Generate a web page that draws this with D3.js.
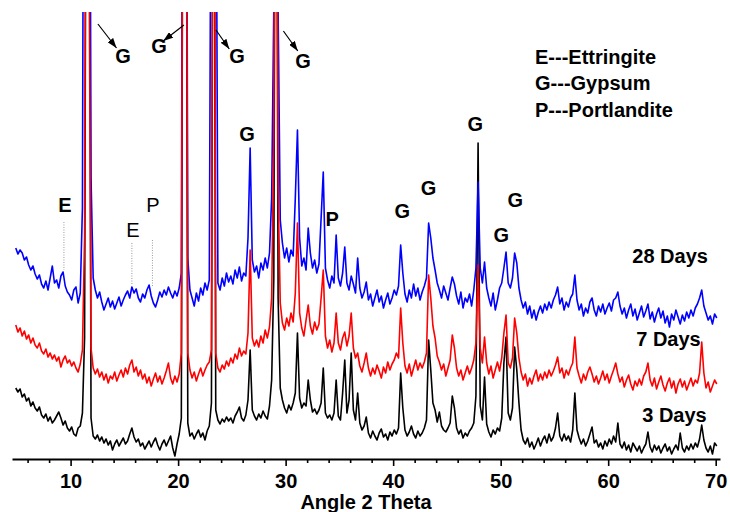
<!DOCTYPE html>
<html>
<head>
<meta charset="utf-8">
<script src="https://cdn.jsdelivr.net/npm/d3@7"></script>
<style>
body{margin:0;background:#fff;}
.chart_container svg{display:block;font-family:"Liberation Sans",Arial,sans-serif;}
</style>
</head>
<body>
<div class="chart_container"></div>
<script>
// scan: 2 theta from 4.9 deg, 0.2 deg per step, intensity in a.u.
var start = 4.9, step = 0.2;
var days3 = [
    70,66,69,61,64,57,60,52,56,50, 47,51,43,40,44,37,41,35,38,42,
    46,40,33,37,30,27,31,24,22,30, 32,45,120,900,900,40,22,19,23,17,
    21,15,19,13,17,8,14,18,12,16, 20,14,17,24,30,21,16,19,12,15,
    9,13,17,11,16,20,13,8,14,18, 12,17,22,10,2,14,24,40,900,900,
    35,22,25,19,24,28,21,25,18,27, 32,55,900,48,38,34,39,36,41,37,
    40,35,42,46,51,40,37,43,58,108, 48,42,38,44,40,47,42,39,52,78,
    180,900,160,70,58,50,45,53,48,55, 65,125,60,50,55,52,78,58,46,49,
    44,48,55,90,45,40,43,38,45,78, 42,38,65,98,45,58,105,48,38,65,
    35,28,32,41,25,20,27,22,18,25, 29,21,24,18,26,22,28,24,30,85,
    50,28,22,26,32,24,20,27,22,25, 30,38,118,88,55,48,36,46,32,28,
    26,30,35,62,50,30,24,28,20,25, 22,27,30,35,62,315,52,38,81,34,
    26,21,28,24,30,27,40,95,121,45, 38,50,111,88,55,28,18,14,20,11,
    16,9,14,20,12,18,22,15,24,17, 21,30,45,22,17,24,18,22,16,28,
    65,28,20,14,19,12,17,24,31,15, 18,11,15,9,17,12,19,14,22,16,
    35,14,10,16,8,13,6,15,11,7, 12,5,10,14,26,11,6,13,8,12,
    5,10,14,7,11,4,9,13,8,25, 10,6,12,8,14,9,15,11,19,33,
    18,10,6,12,4,15,12
];
var days7 = [
    73,66,70,62,67,59,63,55,60,53, 50,55,47,44,49,41,45,39,43,37,
    41,31,38,42,35,38,32,36,30,26, 34,48,160,900,500,50,30,24,29,21,
    26,18,24,15,22,19,26,17,23,28, 21,30,24,33,38,26,31,22,28,19,
    24,15,21,12,19,25,16,22,14,20, 27,35,20,14,22,16,24,45,900,900,
    45,28,20,26,17,24,30,22,28,33, 36,48,900,45,30,26,33,29,37,32,
    40,35,44,39,50,42,47,44,65,148, 60,52,58,51,62,55,68,60,71,100,
    260,900,210,95,75,68,80,72,85,76, 105,175,85,70,62,78,93,72,64,76,
    68,74,100,128,62,50,58,46,55,85, 55,48,60,66,52,62,85,50,40,45,
    32,26,35,45,30,22,30,24,33,27, 20,31,25,36,28,34,38,45,40,90,
    55,32,25,34,22,30,38,28,35,30, 36,45,123,100,72,60,42,36,28,34,
    22,30,38,63,50,30,22,28,18,25, 32,24,30,38,55,133,50,35,61,35,
    24,32,20,28,36,27,40,65,83,35, 30,40,80,65,40,26,18,24,12,20,
    14,22,28,17,24,18,26,20,28,22, 27,33,41,25,30,20,28,23,30,35,
    61,30,22,15,24,18,26,31,24,16, 22,14,20,27,18,24,15,22,28,35,
    24,16,21,11,18,23,14,8,17,12, 19,13,22,26,35,18,12,20,9,16,
    22,13,7,15,20,10,17,5,14,19, 11,17,8,14,20,12,18,15,25,56,
    25,10,16,6,12,18,14
];
var days28 = [
    80,74,78,75,68,71,63,58,62,54, 49,53,44,40,47,38,50,62,45,48,
    40,52,56,42,36,33,28,38,41,25, 35,120,900,900,900,150,50,38,30,36,
    26,18,24,30,21,27,19,25,31,22, 28,33,37,30,41,35,39,30,26,34,
    30,38,43,32,25,21,28,36,31,38, 33,41,35,30,37,32,40,55,900,900,
    70,38,30,22,35,27,40,33,45,38, 48,600,900,600,45,38,50,42,55,46,
    52,44,58,50,61,47,55,52,90,180, 68,56,62,50,65,58,70,60,75,130,
    320,900,320,108,85,70,80,66,78,72, 130,198,90,62,70,58,100,75,60,68,
    55,64,110,156,60,48,40,52,45,93, 50,42,55,81,45,38,52,44,35,70,
    40,30,36,46,28,34,22,30,38,26, 32,20,28,35,24,30,38,33,42,83,
    55,34,26,38,30,44,32,40,28,36, 42,50,105,90,70,58,45,38,30,42,
    35,28,40,51,44,32,24,36,20,30, 26,34,22,38,60,146,60,45,66,40,
    30,22,35,18,28,40,45,60,76,45, 40,50,75,65,40,28,20,26,14,22,
    10,18,8,16,22,15,24,18,26,20, 28,33,41,24,30,18,26,21,30,34,
    53,28,18,24,12,20,15,26,30,18, 12,22,16,24,14,20,25,17,28,30,
    36,22,14,20,10,18,24,12,19,8, 15,22,11,17,24,9,16,6,14,20,
    10,17,5,12,1,14,8,18,11,4, 13,7,16,10,18,12,20,24,30,38,
    22,15,8,12,4,14,10
];
var seriesNames = ["3 Days", "28 Days", "7 Days"];   /*draw order: black, blue, red*/
var seriesData = [days3, days28, days7];
var seriesOffset = [0, 130, 60];
var seriesColor = ["#000000", "#0000ff", "#ff0000"];

var majorTicks = [10, 20, 30, 40, 50, 60, 70];
var minorTicks = [6, 8, 12, 14, 16, 18, 22, 24, 26, 28, 32, 34, 36, 38, 42, 44, 46, 48, 52, 54, 56, 58, 62, 64, 66, 68];

var phaseLegend = ["E---Ettringite", "G---Gypsum", "P---Portlandite"];
var peakLabels = [
    {t: "G", a: 14.87, v: 395}, {t: "G", a: 18.22, v: 405}, {t: "G", a: 25.48, v: 395}, {t: "G", a: 31.62, v: 390},
    {t: "G", a: 26.41, v: 317}, {t: "P", a: 34.32, v: 232}, {t: "E", a: 9.47, v: 246},
    {t: "E", a: 15.8, v: 221, light: true}, {t: "P", a: 17.66, v: 246, light: true},
    {t: "G", a: 47.63, v: 327}, {t: "G", a: 43.28, v: 263}, {t: "G", a: 40.86, v: 240},
    {t: "G", a: 51.35, v: 251}, {t: "G", a: 50.05, v: 216}
];
var peakArrows = [[12.54, 434, 14.27, 410], [20.54, 433, 18.62, 417], [23.52, 428, 24.76, 409], [29.79, 427, 31.13, 407]];
var peakMarks = [[9.38, 236, 188], [15.7, 215, 173], [17.61, 218, 171]];
var dayLabels = [{t: "28 Days", a: 62.24, v: 195}, {t: "7 Days", a: 62.61, v: 112}, {t: "3 Days", a: 63.17, v: 36}];

var width = 730, height = 512;
var svg = d3.select(".chart_container").append("svg")
    .attr("width", width)
    .attr("height", height);

var x = d3.scaleLinear().domain([4.55, 70.4]).range([12, 720]);
var y = d3.scaleLinear().domain([0, 446]).range([458, 12]);

svg.append("defs").append("clipPath")
    .attr("id", "plotClip")
    .append("rect")
    .attr("x", 0).attr("y", 12)
    .attr("width", width).attr("height", 447);

var marker = svg.select("defs").append("marker")
    .attr("id", "arrowHead")
    .attr("viewBox", "0 0 10 7")
    .attr("refX", 10).attr("refY", 3.5)
    .attr("markerWidth", 10).attr("markerHeight", 7)
    .attr("markerUnits", "userSpaceOnUse")
    .attr("orient", "auto");
marker.append("path").attr("d", "M0,0L10,3.5L0,7Z").attr("fill", "#000");

// patterns
var line = d3.line()
    .x(function(d){ return x(d[0]); })
    .y(function(d){ return y(d[1]); });
var plot = svg.append("g").attr("clip-path", "url(#plotClip)");
seriesData.forEach(function(values, k){
    var pts = values.map(function(v, i){
        return [start + i * step, v + seriesOffset[k]];
    });
    plot.append("path")
        .datum(pts)
        .attr("class", "pattern")
        .attr("fill", "none")
        .attr("stroke", seriesColor[k])
        .attr("stroke-width", 1.6)
        .attr("stroke-linejoin", "round")
        .attr("d", line);
});

// axis
var axisG = svg.append("g").attr("transform", "translate(0,459)");
axisG.append("g")
    .call(d3.axisBottom(x).tickValues(minorTicks).tickSize(4).tickSizeOuter(0).tickFormat(""))
    .call(function(g){ g.select(".domain").remove(); });
axisG.append("g")
    .call(d3.axisBottom(x).tickValues(majorTicks).tickSize(7).tickSizeOuter(0).tickPadding(8).tickFormat(d3.format("d")))
    .call(function(g){ g.select(".domain").attr("stroke-width", 2); });
axisG.selectAll(".tick line").attr("stroke-width", 1.6);
axisG.selectAll("text")
    .attr("font-family", '"Liberation Sans",Arial,sans-serif')
    .attr("font-size", 20)
    .attr("font-weight", "bold")
    .attr("fill", "#000");

svg.append("text")
    .attr("x", 366).attr("y", 509)
    .attr("text-anchor", "middle")
    .attr("font-size", 20).attr("font-weight", "bold")
    .text("Angle 2 Theta");

// annotations
svg.selectAll(".peak-mark")
    .data(peakMarks)
    .enter().append("line")
    .attr("class", "peak-mark")
    .attr("x1", function(d){ return x(d[0]); })
    .attr("x2", function(d){ return x(d[0]); })
    .attr("y1", function(d){ return y(d[1]); })
    .attr("y2", function(d){ return y(d[2]); })
    .attr("stroke", "#999")
    .attr("stroke-width", 1)
    .attr("stroke-dasharray", "1,1.5");

svg.selectAll(".peak-arrow")
    .data(peakArrows)
    .enter().append("line")
    .attr("class", "peak-arrow")
    .attr("x1", function(d){ return x(d[0]); })
    .attr("y1", function(d){ return y(d[1]); })
    .attr("x2", function(d){ return x(d[2]); })
    .attr("y2", function(d){ return y(d[3]); })
    .attr("stroke", "#000")
    .attr("stroke-width", 1.2)
    .attr("marker-end", "url(#arrowHead)");

svg.selectAll(".peak-label")
    .data(peakLabels)
    .enter().append("text")
    .attr("class", "peak-label")
    .attr("x", function(d){ return x(d.a); })
    .attr("y", function(d){ return y(d.v); })
    .attr("text-anchor", "middle")
    .attr("font-size", 20)
    .attr("font-weight", function(d){ return d.light ? "normal" : "bold"; })
    .text(function(d){ return d.t; });

svg.selectAll(".day-label")
    .data(dayLabels)
    .enter().append("text")
    .attr("class", "day-label")
    .attr("x", function(d){ return x(d.a); })
    .attr("y", function(d){ return y(d.v); })
    .attr("font-size", 20)
    .attr("font-weight", "bold")
    .text(function(d){ return d.t; });

svg.selectAll(".phase-legend")
    .data(phaseLegend)
    .enter().append("text")
    .attr("class", "phase-legend")
    .attr("x", 535)
    .attr("y", function(d, i){ return 64 + i * 26.3; })
    .attr("font-size", 20)
    .attr("font-weight", "bold")
    .text(function(d){ return d; });
</script>
</body>
</html>
